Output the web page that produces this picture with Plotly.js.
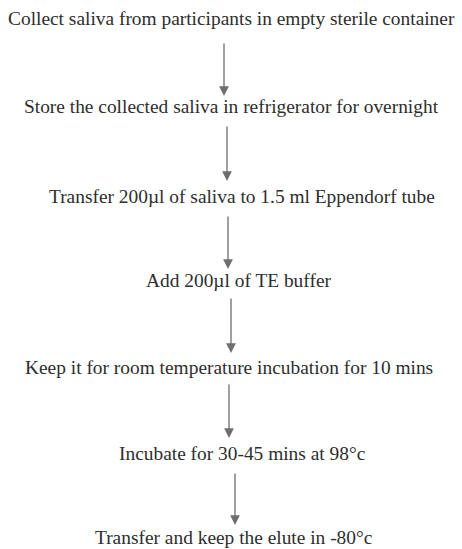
<!DOCTYPE html>
<html><head><meta charset="utf-8">
<script src="https://cdn.plot.ly/plotly-3.0.1.min.js"></script>
<style>html,body{margin:0;padding:0;background:#fff}#chart{width:462px;height:549px}</style>
</head><body><div id="chart"></div>
<script>
// Flowchart steps (content)
const steps = [
  "Collect saliva from participants in empty sterile container",
  "Store the collected saliva in refrigerator for overnight",
  "Transfer 200µl of saliva to 1.5 ml Eppendorf tube",
  "Add 200µl of TE buffer",
  "Keep it for room temperature incubation for 10 mins",
  "Incubate for 30-45 mins at 98°c",
  "Transfer and keep the elute in -80°c"
];
// Layout (pixel-like coordinates on a 462x549 canvas)
const textX = [231, 231, 242, 238, 229, 242, 234];
const textY = [18, 106, 196, 280, 367, 453, 537];
const arrowX = [224, 227, 228, 231, 229, 235];
const arrowTop = [42, 125, 215, 297, 383, 472];
const arrowTip = [96, 181, 269, 353, 438, 525];

const annotations = [];
steps.forEach((s, i) => {
  annotations.push({
    x: textX[i], y: textY[i], xref: 'x', yref: 'y', text: s, showarrow: false,
    xanchor: 'center', yanchor: 'middle',
    font: {family: 'Liberation Serif, Times New Roman, serif', size: 19.4, color: '#2e2e2e'}
  });
});
arrowX.forEach((x, i) => {
  annotations.push({
    x: x, y: arrowTip[i], ax: x, ay: arrowTop[i], xref: 'x', yref: 'y', axref: 'x', ayref: 'y',
    text: '', showarrow: true, arrowhead: 2, arrowsize: 1.5, arrowwidth: 1.3, arrowcolor: '#6e6e6e',
    standoff: 0, startstandoff: 0
  });
});

Plotly.newPlot('chart', [], {
  width: 462, height: 549,
  margin: {l: 0, r: 0, t: 0, b: 0},
  paper_bgcolor: '#ffffff', plot_bgcolor: '#ffffff',
  xaxis: {range: [0, 462], visible: false, fixedrange: true},
  yaxis: {range: [549, 0], visible: false, fixedrange: true},
  showlegend: false,
  annotations: annotations
}, {staticPlot: true, displayModeBar: false});
</script></body></html>
